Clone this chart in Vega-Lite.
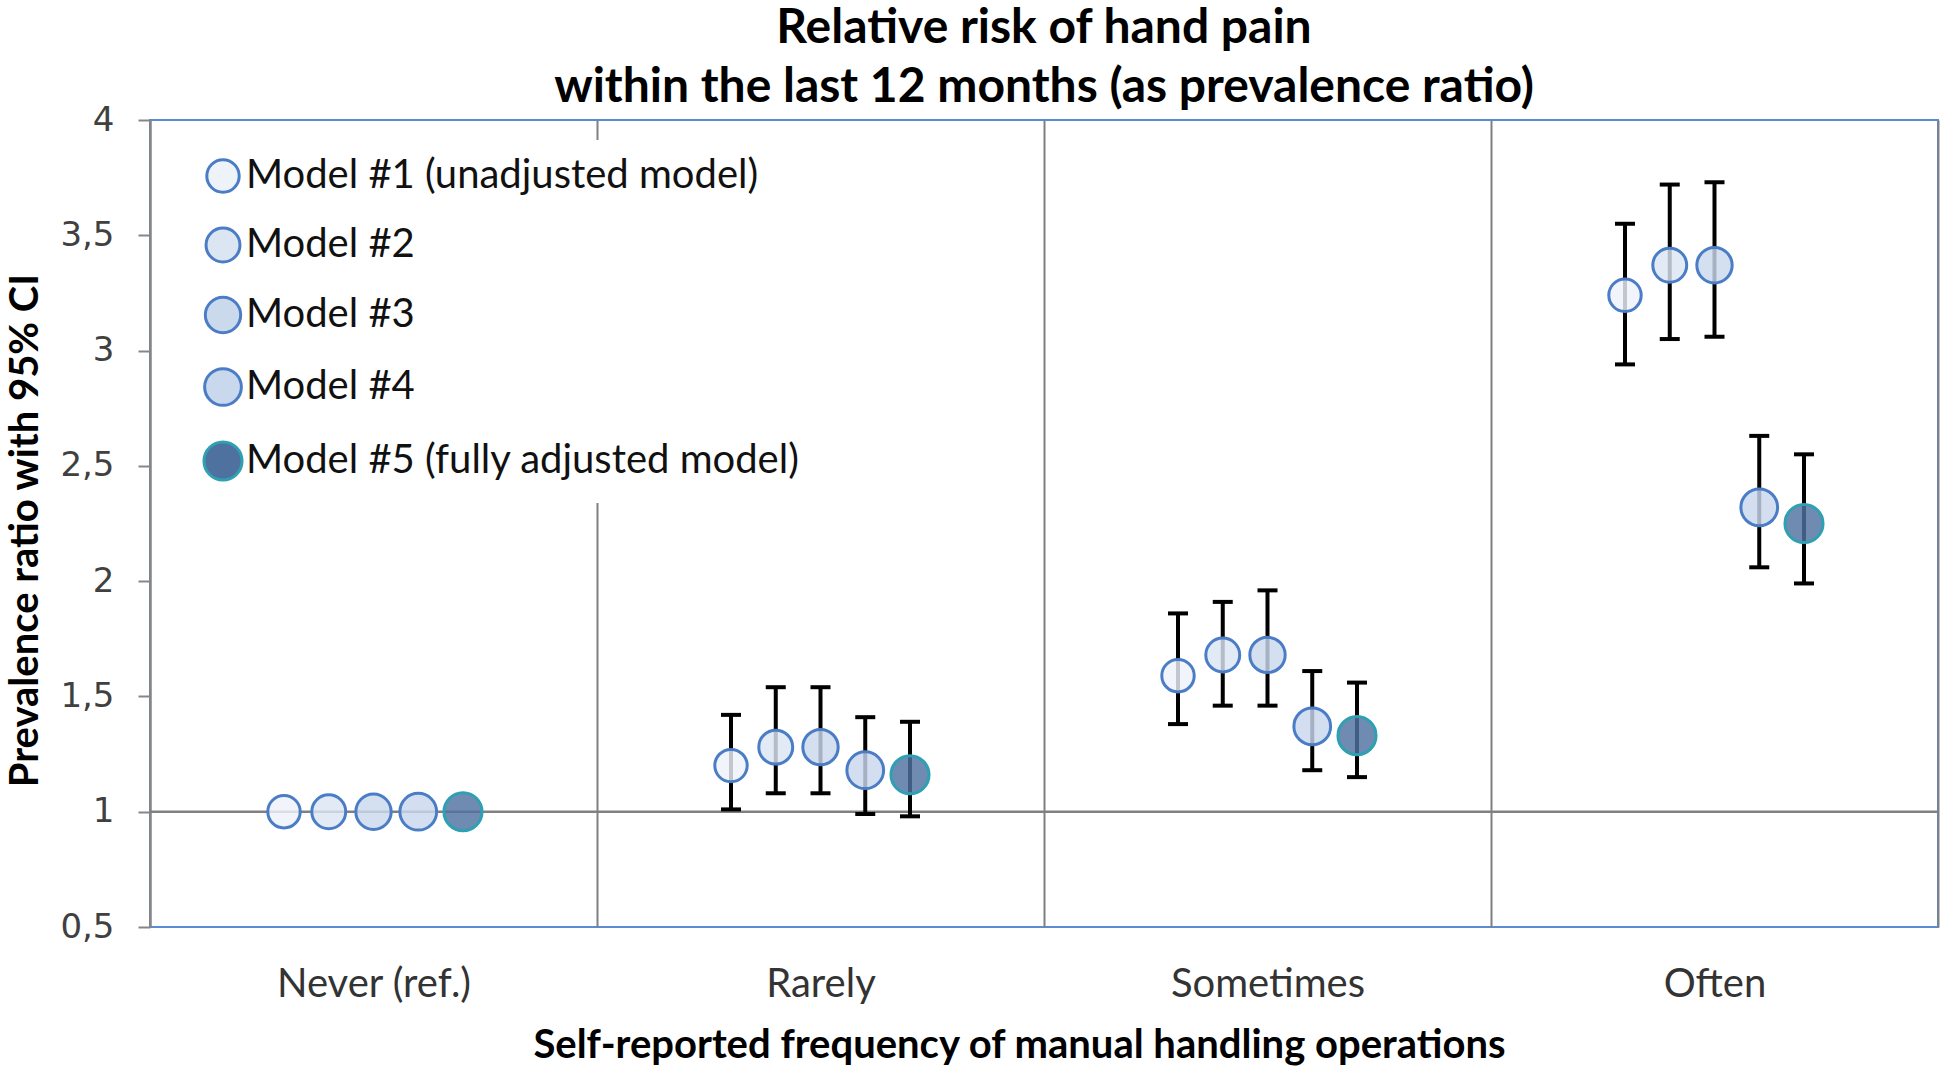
{
  "$schema": "https://vega.github.io/schema/vega-lite/v6.json",
  "width": 1788,
  "height": 807,
  "autosize": {"type": "none"},
  "padding": {"left": 150, "top": 120, "right": 6, "bottom": 147},
  "background": "white",
  "config": {
    "view": {"stroke": "#5b8bd0", "strokeWidth": 2},
    "font": "Lato",
    "legend": {
      "orient": "none", "legendX": 36, "legendY": 20, "title": null,
      "labelFont": "Lato", "labelFontSize": 40, "labelColor": "#111111", "labelLimit": 900,
      "symbolSize": 730, "symbolStrokeWidth": 3, "symbolType": "circle", "symbolOpacity": 1,
      "rowPadding": 23, "labelOffset": 2, "padding": 16, "fillColor": "white"
    }
  },
  "title": {
    "text": ["Relative risk of hand pain", "within the last 12 months (as prevalence ratio)"],
    "font": "Lato", "fontSize": 48, "fontWeight": "bold", "color": "#000000",
    "lineHeight": 59, "anchor": "middle", "offset": -9
  },
  "data": {"values": [
    {"frequency": "Never (ref.)", "model": "Model #1 (unadjusted model)", "pr": 1.0, "lo": null, "hi": null},
    {"frequency": "Never (ref.)", "model": "Model #2", "pr": 1.0, "lo": null, "hi": null},
    {"frequency": "Never (ref.)", "model": "Model #3", "pr": 1.0, "lo": null, "hi": null},
    {"frequency": "Never (ref.)", "model": "Model #4", "pr": 1.0, "lo": null, "hi": null},
    {"frequency": "Never (ref.)", "model": "Model #5 (fully adjusted model)", "pr": 1.0, "lo": null, "hi": null},
    {"frequency": "Rarely", "model": "Model #1 (unadjusted model)", "pr": 1.20, "lo": 1.01, "hi": 1.42},
    {"frequency": "Rarely", "model": "Model #2", "pr": 1.28, "lo": 1.08, "hi": 1.54},
    {"frequency": "Rarely", "model": "Model #3", "pr": 1.28, "lo": 1.08, "hi": 1.54},
    {"frequency": "Rarely", "model": "Model #4", "pr": 1.18, "lo": 0.99, "hi": 1.41},
    {"frequency": "Rarely", "model": "Model #5 (fully adjusted model)", "pr": 1.16, "lo": 0.98, "hi": 1.39},
    {"frequency": "Sometimes", "model": "Model #1 (unadjusted model)", "pr": 1.59, "lo": 1.38, "hi": 1.86},
    {"frequency": "Sometimes", "model": "Model #2", "pr": 1.68, "lo": 1.46, "hi": 1.91},
    {"frequency": "Sometimes", "model": "Model #3", "pr": 1.68, "lo": 1.46, "hi": 1.96},
    {"frequency": "Sometimes", "model": "Model #4", "pr": 1.37, "lo": 1.18, "hi": 1.61},
    {"frequency": "Sometimes", "model": "Model #5 (fully adjusted model)", "pr": 1.33, "lo": 1.15, "hi": 1.56},
    {"frequency": "Often", "model": "Model #1 (unadjusted model)", "pr": 3.24, "lo": 2.94, "hi": 3.55},
    {"frequency": "Often", "model": "Model #2", "pr": 3.37, "lo": 3.05, "hi": 3.72},
    {"frequency": "Often", "model": "Model #3", "pr": 3.37, "lo": 3.06, "hi": 3.73},
    {"frequency": "Often", "model": "Model #4", "pr": 2.32, "lo": 2.06, "hi": 2.63},
    {"frequency": "Often", "model": "Model #5 (fully adjusted model)", "pr": 2.25, "lo": 1.99, "hi": 2.55}
  ]},
  "layer": [
    {
      "data": {"values": [{}]},
      "mark": {"type": "rule", "color": "#808080", "strokeWidth": 2.5},
      "encoding": {"y": {"datum": 1, "type": "quantitative"}}
    },
    {
      "mark": {"type": "rule", "color": "#000000", "strokeWidth": 4},
      "encoding": {
        "x": {"field": "frequency", "type": "nominal", "sort": ["Never (ref.)", "Rarely", "Sometimes", "Often"], "scale": {"paddingInner": 0, "paddingOuter": 0}},
        "xOffset": {"field": "model", "type": "nominal", "scale": {"type": "point", "padding": 0, "range": [134, 313]}},
        "y": {"field": "lo", "type": "quantitative"},
        "y2": {"field": "hi"}
      }
    },
    {
      "mark": {"type": "tick", "color": "#000000", "size": 20, "thickness": 4, "opacity": 1, "orient": "horizontal"},
      "encoding": {
        "x": {"field": "frequency", "type": "nominal", "sort": ["Never (ref.)", "Rarely", "Sometimes", "Often"]},
        "xOffset": {"field": "model", "type": "nominal"},
        "y": {"field": "lo", "type": "quantitative"}
      }
    },
    {
      "mark": {"type": "tick", "color": "#000000", "size": 20, "thickness": 4, "opacity": 1, "orient": "horizontal"},
      "encoding": {
        "x": {"field": "frequency", "type": "nominal", "sort": ["Never (ref.)", "Rarely", "Sometimes", "Often"]},
        "xOffset": {"field": "model", "type": "nominal"},
        "y": {"field": "hi", "type": "quantitative"}
      }
    },
    {
      "mark": {"type": "circle", "strokeWidth": 3, "opacity": 1, "fillOpacity": 0.82},
      "encoding": {
        "x": {
          "field": "frequency", "type": "nominal",
          "sort": ["Never (ref.)", "Rarely", "Sometimes", "Often"],
          "axis": {
            "tickBand": "extent", "grid": true, "gridColor": "#808080", "gridWidth": 2,
            "ticks": false, "domain": false, "labelAngle": 0, "labelAlign": "center", "labelLimit": 500,
            "labelFont": "Lato", "labelFontSize": 40, "labelColor": "#333333", "labelPadding": 57,
            "title": "Self-reported frequency of manual handling operations",
            "titleFont": "Lato", "titleFontSize": 40, "titleFontWeight": "bold", "titleColor": "#000000",
            "titleX": 869, "titleY": 118, "titleBaseline": "middle"
          }
        },
        "xOffset": {"field": "model", "type": "nominal"},
        "y": {
          "field": "pr", "type": "quantitative",
          "scale": {"domain": [0.5, 4], "nice": false, "zero": false},
          "axis": {
            "values": [0.5, 1, 1.5, 2, 2.5, 3, 3.5, 4],
            "labelExpr": "replace(format(datum.value, '~g'), '.', ',')",
            "grid": false, "domainColor": "#868686", "domainWidth": 2,
            "tickColor": "#868686", "tickWidth": 2, "tickSize": 12,
            "labelFont": "DejaVu Sans", "labelFontSize": 34, "labelColor": "#404040", "labelPadding": 24,
            "title": "Prevalence ratio with 95% CI",
            "titleFont": "Lato", "titleFontSize": 40, "titleFontWeight": "bold", "titleColor": "#000000",
            "titleX": -125, "titleY": 410, "titleBaseline": "middle", "titleAlign": "center", "titleAngle": -90
          }
        },
        "fill": {
          "field": "model", "type": "nominal",
          "scale": {
            "domain": ["Model #1 (unadjusted model)", "Model #2", "Model #3", "Model #4", "Model #5 (fully adjusted model)"],
            "range": ["#eef3fa", "#dce6f3", "#cbd9ed", "#c9d8ed", "#4f71a0"]
          },
          "legend": {
            "orient": "none", "legendX": 36, "legendY": 20,
            "encode": {"symbols": {"update": {"size": {"value": 730}, "strokeWidth": {"value": 3}}}}
          }
        },
        "stroke": {
          "field": "model", "type": "nominal",
          "scale": {
            "domain": ["Model #1 (unadjusted model)", "Model #2", "Model #3", "Model #4", "Model #5 (fully adjusted model)"],
            "range": ["#4a7dc5", "#4a7dc5", "#4a7dc5", "#4a7dc5", "#2ea0b2"]
          }
        },
        "size": {
          "field": "model", "type": "nominal",
          "scale": {
            "domain": ["Model #1 (unadjusted model)", "Model #2", "Model #3", "Model #4", "Model #5 (fully adjusted model)"],
            "range": [1050, 1450, 1450, 1450, 2050]
          }
        }
      }
    }
  ]
}
